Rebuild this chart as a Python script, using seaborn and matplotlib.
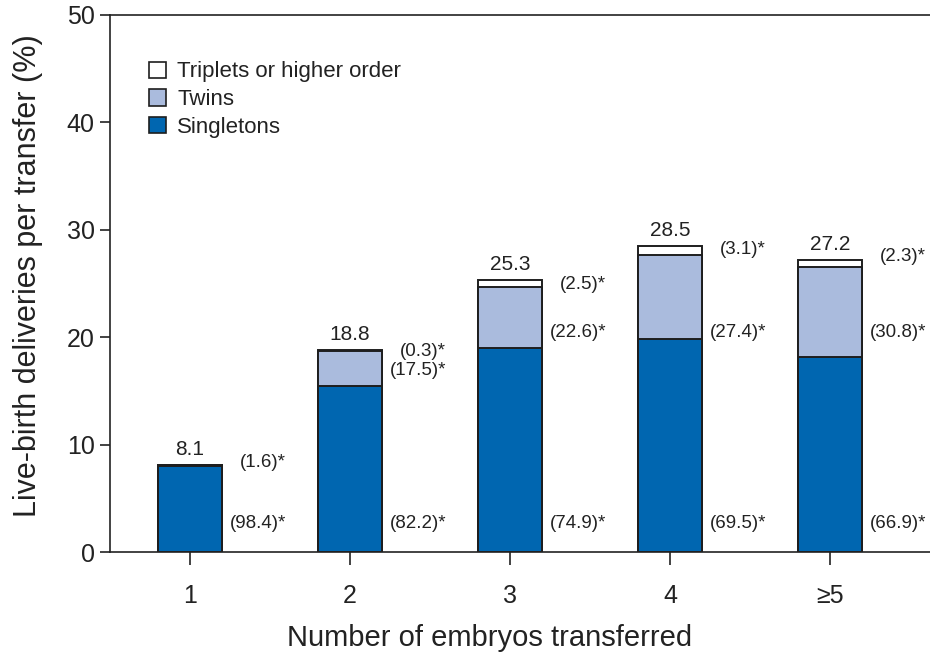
import matplotlib
matplotlib.use("Agg")
import matplotlib.pyplot as plt
from matplotlib.patches import Patch
import seaborn as sns
import pandas as pd

# ---- data ----
categories = ["1", "2", "3", "4", "≥5"]
totals = [8.1, 18.8, 25.3, 28.5, 27.2]
singletons = [7.97, 15.45, 18.95, 19.81, 18.20]
twins = [0.13, 3.29, 5.72, 7.81, 8.38]
triplets = [0.0, 0.06, 0.63, 0.88, 0.63]
singleton_pct = ["98.4", "82.2", "74.9", "69.5", "66.9"]
twin_pct = ["1.6", "17.5", "22.6", "27.4", "30.8"]
triplet_pct = [None, "0.3", "2.5", "3.1", "2.3"]

# ---- layout constants for annotations ----
singleton_label_y = [2.7, 2.7, 2.7, 2.7, 2.7]
twin_label_y = [8.3, 16.9, 20.4, 20.4, 20.4]
triplet_label_y = [None, 18.7, 24.9, 28.2, 27.5]

sns.set_theme(style="white")
plt.rcParams["font.family"] = ["Liberation Sans", "DejaVu Sans"]

col_single = "#0066b0"
col_twin = "#aabbdd"
col_trip = "#ffffff"
edge = "#1e1e1e"
txt = "#222222"

df = pd.DataFrame({
    "cat": categories,
    "total": totals,
    "st": [s + t for s, t in zip(singletons, twins)],
    "s": singletons,
})

fig = plt.figure(figsize=(9.3, 6.56), dpi=100)
ax = fig.add_axes([110 / 930, (656 - 552) / 656, 1 - 110 / 930, (552 - 15) / 656])

for col, color in [("total", col_trip), ("st", col_twin), ("s", col_single)]:
    sns.barplot(data=df, x="cat", y=col, order=categories, color=color,
                width=0.4, edgecolor=edge, linewidth=1.4, saturation=1,
                errorbar=None, ax=ax)

ax.set_ylim(0, 50)
ax.set_xlim(-0.5, 4.625)
ax.set_yticks([0, 10, 20, 30, 40, 50])
ax.tick_params(axis="both", which="both", direction="out", length=7, width=1.2,
               color=txt, labelcolor=txt, labelsize=18, pad=4, left=True, bottom=True)
ax.tick_params(axis="x", length=9, pad=14)
for s in ["left", "bottom", "top"]:
    ax.spines[s].set_visible(True)
    ax.spines[s].set_color(txt)
    ax.spines[s].set_linewidth(1.2)
ax.spines["right"].set_visible(False)

ax.set_xlabel("Number of embryos transferred", fontsize=21, color=txt)
ax.set_ylabel("Live-birth deliveries per transfer (%)", fontsize=22, color=txt)
ax.xaxis.set_label_coords(0.463, -0.134)
ax.yaxis.set_label_coords(-0.082, 0.514)

for i in range(len(categories)):
    ax.text(i, totals[i] + 0.55, f"{totals[i]}", ha="center", va="bottom",
            fontsize=15, color=txt)
    ax.text(i + 0.6, singleton_label_y[i], f"({singleton_pct[i]})*", ha="right",
            va="center", fontsize=13.5, color=txt)
    ax.text(i + 0.6, twin_label_y[i], f"({twin_pct[i]})*", ha="right",
            va="center", fontsize=13.5, color=txt)
    if triplet_pct[i] is not None:
        ax.text(i + 0.6, triplet_label_y[i], f"({triplet_pct[i]})*", ha="right",
                va="center", fontsize=13.5, color=txt)

handles = [
    Patch(facecolor=col_trip, edgecolor=edge, linewidth=1.2, label="Triplets or higher order"),
    Patch(facecolor=col_twin, edgecolor=edge, linewidth=1.2, label="Twins"),
    Patch(facecolor=col_single, edgecolor=edge, linewidth=1.2, label="Singletons"),
]
leg = ax.legend(handles=handles, loc="upper left", bbox_to_anchor=(0.037, 0.93),
                frameon=False, fontsize=16, handlelength=0.75, handleheight=0.75,
                handletextpad=0.5, labelspacing=0.3, borderaxespad=0)
for t in leg.get_texts():
    t.set_color(txt)

fig.savefig("out.png", dpi=100)
